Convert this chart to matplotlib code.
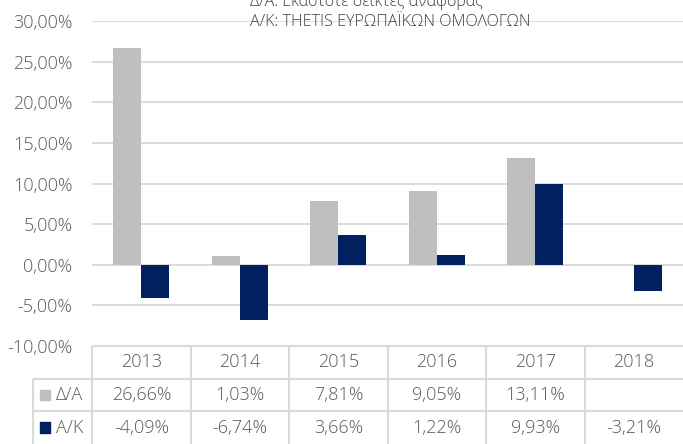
import matplotlib
matplotlib.use('Agg')
import matplotlib.pyplot as plt
from matplotlib.patches import Rectangle
import numpy as np

years = ['2013', '2014', '2015', '2016', '2017', '2018']
da = [26.66, 1.03, 7.81, 9.05, 13.11, None]
ak = [-4.09, -6.74, 3.66, 1.22, 9.93, -3.21]
series_names = ['Δ/Α', 'Α/Κ']
colors = ['#bfbfbf', '#002060']
yticks = [-10, -5, 0, 5, 10, 15, 20, 25, 30]
title_lines = ['Δ/Α: Εκάστοτε δείκτες αναφοράς', 'Α/Κ: THETIS ΕΥΡΩΠΑΪΚΩΝ ΟΜΟΛΟΓΩΝ']

plt.rcParams['font.family'] = ['Open Sans', 'DejaVu Sans']
TXT = '#595959'
GRID = '#d9d9d9'
FS = 13

def fmt(v):
    return '' if v is None else f'{v:.2f}%'.replace('.', ',')

W, H = 683, 444
fig = plt.figure(figsize=(W / 100, H / 100), dpi=100)

def px(x0, y0, x1, y1):
    return [x0 / W, 1 - y1 / H, (x1 - x0) / W, (y1 - y0) / H]

ax = fig.add_axes(px(92, 21, 683, 346))
x = np.arange(len(years))
bw = 0.285
da_vals = [np.nan if v is None else v for v in da]
ax.bar(x - bw / 2, da_vals, bw, color=colors[0], zorder=3)
ax.bar(x + bw / 2, ak, bw, color=colors[1], zorder=3)
ax.set_xlim(-0.5, len(years) - 0.5)
ax.set_ylim(yticks[0], yticks[-1])
ax.set_yticks(yticks)
ax.set_yticklabels([fmt(v) for v in yticks])
ax.yaxis.grid(True, color=GRID, lw=1.3)
ax.set_axisbelow(True)
ax.tick_params(axis='y', length=0, pad=14, labelsize=FS, labelcolor=TXT)
ax.set_xticks([])
for s in ax.spines.values():
    s.set_visible(False)
for lab in ax.get_yticklabels():
    lab.set_fontweight('light')

# data table
tax = fig.add_axes(px(33, 346, 683, 444))
tax.set_xlim(-1.1, len(years) - 0.5)
tax.set_ylim(3, 0)
tax.axis('off')
lk = dict(color=GRID, lw=1.5, clip_on=False)
tax.hlines(0, -0.5, len(years) - 0.5, **lk)
tax.hlines([1, 2], -1.1, len(years) - 0.5, **lk)
tax.vlines(np.arange(len(years)) - 0.5, 0, 3, **lk)
tax.vlines(-1.1, 1, 3, **lk)
tk = dict(fontsize=FS, color=TXT, fontweight='light', ha='center', va='center')
for i, yr in enumerate(years):
    tax.text(i, 0.5, yr, **tk)
    tax.text(i, 1.5, fmt(da[i]), **tk)
    tax.text(i, 2.5, fmt(ak[i]), **tk)
for r, (name, c) in enumerate(zip(series_names, colors)):
    tax.add_patch(Rectangle((-1.03, 1.5 + r - 0.16), 0.1, 0.32, color=c, clip_on=False))
    tax.text(-0.87, 1.5 + r, name, fontsize=FS, color=TXT, fontweight='light', ha='left', va='center')

fig.text(250 / W, 1 - 6 / H, title_lines[0], fontsize=11.6, color='#404040', fontweight='light', va='baseline')
fig.text(250 / W, 1 - 26 / H, title_lines[1], fontsize=11.6, color='#404040', fontweight='light', va='baseline')

fig.savefig('out.png', dpi=100)
